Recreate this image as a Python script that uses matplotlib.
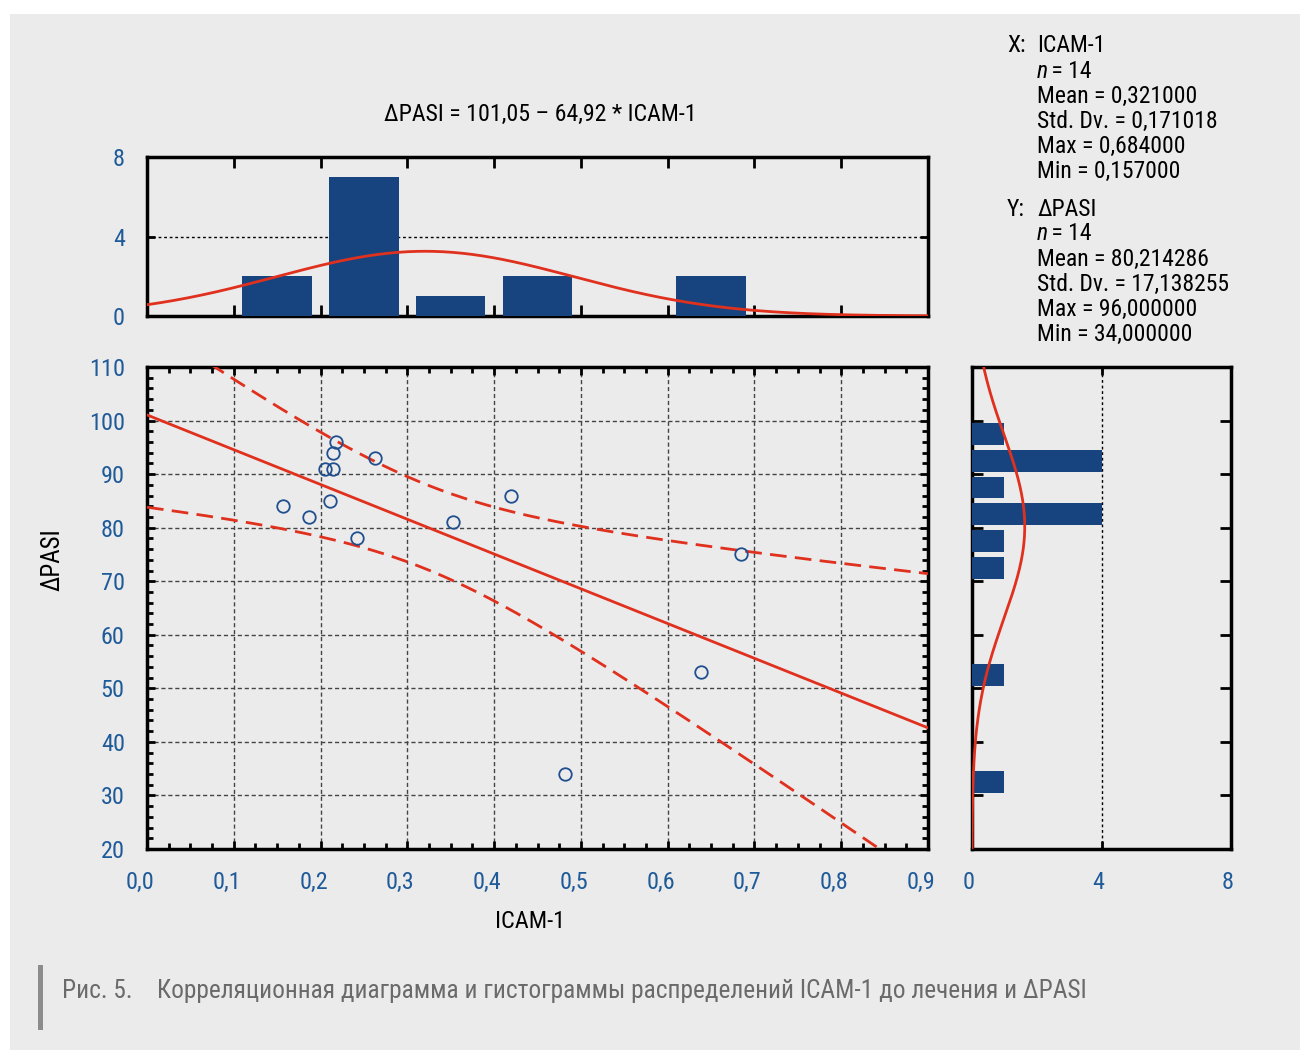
import numpy as np
import matplotlib
matplotlib.use("Agg")
import matplotlib.pyplot as plt
import matplotlib.transforms as mtransforms
from matplotlib.ticker import MultipleLocator, NullFormatter
from matplotlib import font_manager as fm

# ---------------- data ----------------
icam = [0.157, 0.187, 0.205, 0.214, 0.214, 0.218, 0.211, 0.242, 0.263,
        0.353, 0.419, 0.482, 0.638, 0.684]
dpasi = [84, 82, 91, 91, 94, 96, 85, 78, 93, 81, 86, 34, 53, 75]
intercept = 101.05
slope = -64.92
t_crit = 2.1788  # t(0.975, 12)
x_bin_edges = [0.0, 0.1, 0.2, 0.3, 0.4, 0.5, 0.6, 0.7, 0.8, 0.9]
y_bin_edges = [20, 25, 30, 35, 40, 45, 50, 55, 60, 65, 70, 75, 80, 85, 90, 95, 100, 105, 110]
x_ticklabels = ["0,0", "0,1", "0,2", "0,3", "0,4", "0,5", "0,6", "0,7", "0,8", "0,9"]
title_txt = "ΔPASI = 101,05 – 64,92 * ICAM-1"
caption_num = "Рис. 5."
caption = "Корреляционная диаграмма и гистограммы распределений ICAM-1 до лечения и ΔPASI"
stats_x = ["ICAM-1", "14", "Mean = 0,321000", "Std. Dv. = 0,171018", "Max = 0,684000", "Min = 0,157000"]
stats_y = ["ΔPASI", "14", "Mean = 80,214286", "Std. Dv. = 17,138255", "Max = 96,000000", "Min = 34,000000"]

# ---------------- style ----------------
avail = {f.name for f in fm.fontManager.ttflist}
fams = [f for f in ["Liberation Sans Narrow", "Roboto Condensed", "Roboto", "DejaVu Sans"] if f in avail]
plt.rcParams['font.family'] = fams
BG = "#ebebeb"
BLUE_T = "#1f5a99"
BAR = "#17447f"
RED = "#e0301e"
W, H = 1300, 1050
TS = 17.5  # tick label size
SS = 17    # stats text size

fig = plt.figure(figsize=(13, 10.5), dpi=100, facecolor="white")
fig.patches.append(plt.Rectangle((10 / W, 0), 1, 1 - 14 / H, transform=fig.transFigure,
                                 facecolor=BG, edgecolor="none", zorder=-10))

def fx(px): return px / W
def fy(py): return 1 - py / H

ax = fig.add_axes([fx(147), fy(849), fx(928) - fx(147), fy(367) - fy(849)])
axt = fig.add_axes([fx(147), fy(316), fx(928) - fx(147), fy(157) - fy(316)])
axr = fig.add_axes([fx(972), fy(849), fx(1231) - fx(972), fy(367) - fy(849)])

for a in (ax, axt, axr):
    a.set_facecolor(BG)
    for s in a.spines.values():
        s.set_linewidth(2.5)
        s.set_color("black")
    a.tick_params(which="both", direction="in", top=True, right=True, color="black",
                  labelcolor=BLUE_T, labelsize=TS)
    a.tick_params(which="major", length=6, width=2)
    a.tick_params(which="minor", length=4, width=2)

x = np.array(icam)
y = np.array(dpasi)

def shift_xlabels(a, dx_px):
    off = mtransforms.ScaledTranslation(dx_px / 100, 0, fig.dpi_scale_trans)
    for lbl in a.get_xticklabels():
        lbl.set_transform(lbl.get_transform() + off)

# ---------------- main scatter ----------------
ax.set_xlim(0, 0.9)
ax.set_ylim(20, 110)
ax.xaxis.set_minor_locator(MultipleLocator(0.025))
ax.yaxis.set_major_locator(MultipleLocator(10))
ax.yaxis.set_minor_locator(MultipleLocator(2))
ax.set_xticks(np.arange(0, 0.91, 0.1))
ax.set_xticklabels(x_ticklabels)
ax.tick_params(axis="x", pad=16)
ax.tick_params(axis="y", pad=16)
ax.grid(True, which="major", color="#444444", linestyle=(0, (3, 2)), linewidth=1)
shift_xlabels(ax, -7)

xs = np.linspace(0, 0.9, 400)
yfit = intercept + slope * xs
resid = y - (intercept + slope * x)
n = len(x)
s = np.sqrt(np.sum(resid ** 2) / (n - 2))
sxx = np.sum((x - x.mean()) ** 2)
half = t_crit * s * np.sqrt(1 / n + (xs - x.mean()) ** 2 / sxx)
ax.plot(xs, yfit, color=RED, lw=2, zorder=3)
ax.plot(xs, yfit + half, color=RED, lw=2, linestyle=(0, (6, 3)), zorder=3)
ax.plot(xs, yfit - half, color=RED, lw=2, linestyle=(0, (6, 3)), zorder=3)
ax.plot(x, y, linestyle="none", marker="o", ms=9, mfc="none", mec="#1f4f8f", mew=1.3, zorder=4)

fig.text(fx(530), fy(922), "ICAM-1", ha="center", va="center", fontsize=17.5)
fig.text(fx(52), fy(560), "ΔPASI", ha="center", va="center", fontsize=18, rotation=90)
fig.text(fx(540), fy(114), title_txt, ha="center", va="center", fontsize=17.2)

# ---------------- top histogram ----------------
xc, _ = np.histogram(x, bins=x_bin_edges)
xe = np.array(x_bin_edges)
xcent = (xe[:-1] + xe[1:]) / 2
axt.bar(xcent, xc, width=0.08, color=BAR, zorder=3)
axt.set_xlim(0, 0.9)
axt.set_ylim(0, 8)
axt.set_yticks([0, 4, 8])
axt.xaxis.set_major_locator(MultipleLocator(0.1))
axt.xaxis.set_major_formatter(NullFormatter())
axt.tick_params(axis="x", length=8)
axt.tick_params(axis="y", pad=16)
axt.yaxis.grid(True, color="black", linestyle=(0, (2, 2)), linewidth=1)
pdfx = np.exp(-0.5 * ((xs - x.mean()) / x.std(ddof=1)) ** 2) / (x.std(ddof=1) * np.sqrt(2 * np.pi))
axt.plot(xs, pdfx * n * 0.1, color=RED, lw=2, zorder=4)

# ---------------- right histogram ----------------
ye = np.array(y_bin_edges)
yc = np.array([np.sum((y > lo) & (y <= hi)) for lo, hi in zip(ye[:-1], ye[1:])])
ycent = (ye[:-1] + ye[1:]) / 2
axr.barh(ycent, yc, height=4.1, color=BAR, zorder=3)
axr.set_ylim(20, 110)
axr.set_xlim(0, 8)
axr.set_xticks([0, 4, 8])
axr.yaxis.set_major_locator(MultipleLocator(10))
axr.yaxis.set_major_formatter(NullFormatter())
axr.tick_params(axis="y", length=8)
axr.tick_params(axis="x", pad=16)
axr.xaxis.grid(True, color="black", linestyle=(0, (2, 2)), linewidth=1)
shift_xlabels(axr, -3)
ys = np.linspace(20, 110, 400)
pdfy = np.exp(-0.5 * ((ys - y.mean()) / y.std(ddof=1)) ** 2) / (y.std(ddof=1) * np.sqrt(2 * np.pi))
axr.plot(pdfy * n * 5, ys, color=RED, lw=2, zorder=4)

# ---------------- stats text ----------------
def stats_block(lbl, lines, top):
    fig.text(fx(1007), fy(top), lbl, ha="left", va="center", fontsize=SS)
    for i, ln in enumerate(lines):
        yy = fy(top + 25 * i)
        if i == 1:
            fig.text(fx(1037), yy, "n", ha="left", va="center", fontsize=SS, style="italic")
            fig.text(fx(1046), yy, " = " + ln, ha="left", va="center", fontsize=SS)
        else:
            fig.text(fx(1037), yy, ln, ha="left", va="center", fontsize=SS)

stats_block("X:", stats_x, 46)
stats_block("Y:", stats_y, 209)

# ---------------- caption ----------------
fig.patches.append(plt.Rectangle((fx(38), fy(1030)), 5 / W, 65 / H, transform=fig.transFigure,
                                 facecolor="#8c8c8c", edgecolor="none"))
fig.text(fx(62), fy(991), caption_num, ha="left", va="center", fontsize=18.3, color="#6a6a6a")
fig.text(fx(157), fy(991), caption, ha="left", va="center", fontsize=18.3, color="#6a6a6a")

fig.savefig("out.png", dpi=100, facecolor="white")
